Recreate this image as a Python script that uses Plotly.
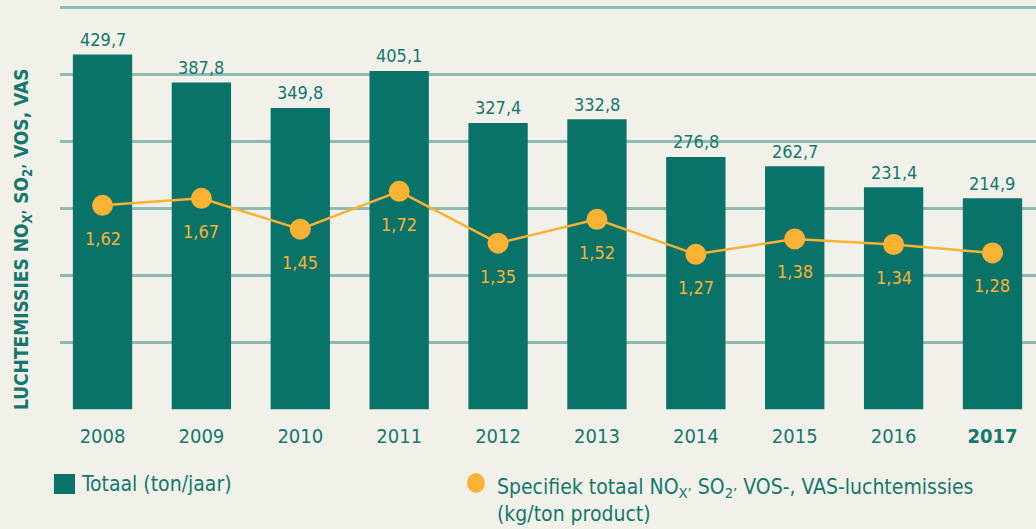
import plotly.graph_objects as go

years = ["2008", "2009", "2010", "2011", "2012", "2013", "2014", "2015", "2016", "2017"]
tick_labels = ["2008", "2009", "2010", "2011", "2012", "2013", "2014", "2015", "2016", "<b>2017</b>"]
totaal = [429.7, 387.8, 349.8, 405.1, 327.4, 332.8, 276.8, 262.7, 231.4, 214.9]
specifiek = [1.62, 1.67, 1.45, 1.72, 1.35, 1.52, 1.27, 1.38, 1.34, 1.28]

AXIS_MIN = -100  # baseline of the designer's axis

TEAL = "#0A7369"
TEXT_TEAL = "#14786E"
ORANGE = "#F9B233"
GRID = "#8DBAB3"
BG = "#F1F1EA"
FONT = "DejaVu Sans Condensed, Liberation Sans Narrow, sans-serif"

def fmt(v, d):
    return f"{v:.{d}f}".replace(".", ",")

idx = list(range(len(years)))

fig = go.Figure()
fig.add_trace(go.Bar(
    x=idx, y=[v - AXIS_MIN for v in totaal], base=AXIS_MIN,
    width=0.6, marker=dict(color=TEAL, line=dict(width=0)),
    name="Totaal (ton/jaar)", showlegend=False, hoverinfo="skip",
))
fig.add_trace(go.Scatter(
    x=idx, y=specifiek, yaxis="y2", mode="lines+markers",
    line=dict(color=ORANGE, width=2.5),
    marker=dict(color=ORANGE, size=21),
    showlegend=False, hoverinfo="skip",
))

annotations = []
for i, v in zip(idx, totaal):
    annotations.append(dict(x=i, y=v, xref="x", yref="y", yshift=15,
                            text=fmt(v, 1), showarrow=False, yanchor="middle",
                            font=dict(family=FONT, size=18, color=TEXT_TEAL)))
for i, v in zip(idx, specifiek):
    annotations.append(dict(x=i, y=v, xref="x", yref="y2", yshift=-33,
                            text=fmt(v, 2), showarrow=False, yanchor="middle",
                            font=dict(family=FONT, size=18, color=ORANGE)))

# y-axis title
annotations.append(dict(x=-0.039, y=0.423, xref="paper", yref="paper",
                        text="<b>LUCHTEMISSIES NO<sub>X’</sub> SO<sub>2’</sub> VOS, VAS</b>",
                        textangle=-90, showarrow=False, xanchor="center", yanchor="middle",
                        font=dict(family=FONT, size=19, color=TEXT_TEAL)))
# legend texts
annotations.append(dict(x=0.0195, y=-0.183, xref="paper", yref="paper",
                        text="Totaal (ton/jaar)", showarrow=False,
                        xanchor="left", yanchor="middle",
                        font=dict(family=FONT, size=21, color=TEXT_TEAL)))
annotations.append(dict(x=0.4457, y=-0.2252, xref="paper", yref="paper",
                        text="Specifiek totaal NO<sub>X’</sub> SO<sub>2’</sub> VOS-, VAS-luchtemissies<br>(kg/ton product)",
                        showarrow=False, xanchor="left", yanchor="middle", align="left",
                        font=dict(family=FONT, size=21, color=TEXT_TEAL)))

shapes = [
    dict(type="rect", xref="paper", yref="paper", x0=-0.0062, x1=0.0154,
         y0=-0.2079, y1=-0.1584, fillcolor=TEAL, line=dict(width=0)),
    dict(type="circle", xref="paper", yref="paper", x0=0.417, x1=0.4354,
         y0=-0.2054, y1=-0.156, fillcolor=ORANGE, line=dict(width=0)),
]

fig.update_layout(
    width=1036, height=529,
    margin=dict(l=60, r=0, t=6, b=119),
    paper_bgcolor=BG, plot_bgcolor=BG,
    bargap=0.4,
    xaxis=dict(range=[-0.43, 9.44], tickvals=idx, ticktext=tick_labels,
               showgrid=False, zeroline=False, showline=False, ticks="",
               ticklabelstandoff=12, automargin=False,
               tickfont=dict(family=FONT, size=20, color=TEXT_TEAL)),
    yaxis=dict(range=[-101, 502], tick0=-100, dtick=100, showgrid=True,
               gridcolor=GRID, gridwidth=3, zeroline=False, showticklabels=False,
               showline=False, ticks="", automargin=False),
    yaxis2=dict(range=[0.158, 3.044], overlaying="y", showgrid=False, zeroline=False,
                showticklabels=False, showline=False, ticks="", automargin=False),
    annotations=annotations,
    shapes=shapes,
)

fig.write_html("out.html", config={"displayModeBar": False},
               post_script="document.body.style.margin='0';")
